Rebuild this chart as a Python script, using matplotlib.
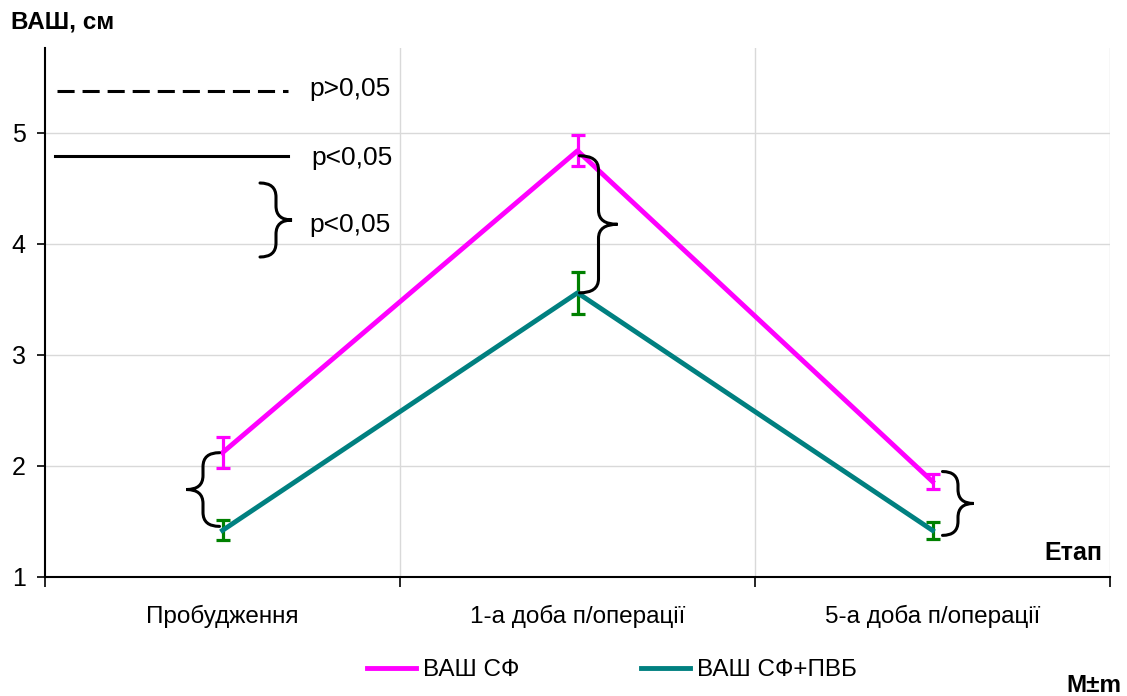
import matplotlib
matplotlib.use("Agg")
import matplotlib.pyplot as plt
from matplotlib.path import Path
from matplotlib.patches import PathPatch
from matplotlib.lines import Line2D

plt.rcParams['font.family'] = ['Liberation Sans', 'DejaVu Sans']

# ---- data ----
categories = ["Пробудження", "1-а доба п/операції", "5-а доба п/операції"]
vas_sf = [2.12, 4.84, 1.86]
vas_sf_err = [0.14, 0.14, 0.07]
vas_pvb = [1.42, 3.56, 1.42]
vas_pvb_err = [0.09, 0.19, 0.08]
series_labels = ["ВАШ СФ", "ВАШ СФ+ПВБ"]
yticks = [1, 2, 3, 4, 5]

W, H = 1127, 696
fig = plt.figure(figsize=(W / 100, H / 100), dpi=100)
L, R, B, T = 45, 1110, 577, 48
ax = fig.add_axes([L / W, 1 - B / H, (R - L) / W, (B - T) / H])

ymin, ymax = 1, 1 + (B - T) / 111.0
ax.set_xlim(-0.5, len(categories) - 0.5)
ax.set_ylim(ymin, ymax)

px_x = (len(categories)) / (R - L)   # data units per pixel in x
px_y = (ymax - ymin) / (B - T)       # data units per pixel in y

x = list(range(len(categories)))
magenta = "#FF00FF"
teal = "#008080"
green = "#008000"

ax.plot(x, vas_sf, color=magenta, lw=3.5, zorder=3)
ax.errorbar(x, vas_sf, yerr=vas_sf_err, fmt='none', ecolor=magenta,
            elinewidth=2.3, capsize=5, capthick=2.3, zorder=4)
ax.errorbar(x, vas_pvb, yerr=vas_pvb_err, fmt='none', ecolor=green,
            elinewidth=2.3, capsize=5, capthick=2.3, zorder=3)
ax.plot(x, vas_pvb, color=teal, lw=3.5, zorder=4)

# grid
for yv in yticks[1:]:
    ax.axhline(yv, color="#d9d9d9", lw=1, zorder=0)
for xb in [0.5, 1.5, 2.5]:
    ax.axvline(xb, color="#d9d9d9", lw=1, zorder=0)

ax.set_yticks(yticks)
ax.set_yticklabels([str(v) for v in yticks], fontsize=18)
ax.set_xticks([-0.5, 0.5, 1.5, 2.5])
ax.set_xticklabels([])
ax.tick_params(axis='x', direction='out', length=7, width=1.2, color='black')
ax.tick_params(axis='y', direction='out', length=6, width=1.2, color='black', pad=8)
for i, c in enumerate(categories):
    ax.text(i, ymin - 46 * px_y, c, ha='center', va='baseline', fontsize=17.5)

for s in ['top', 'right']:
    ax.spines[s].set_visible(False)
ax.spines['left'].set_linewidth(1.5)
ax.spines['bottom'].set_linewidth(1.5)


def brace(ax, x0, ytop, ybot, w, lw=2.2):
    """Curly brace; w>0 -> '}', w<0 -> '{'. w in data x units."""
    ymid = (ytop + ybot) / 2
    r = 14 * px_y
    xm = x0 + w / 2
    verts = [(x0, ytop), (xm, ytop), (xm, ytop - r),
             (xm, ymid + r),
             (xm, ymid), (x0 + w, ymid),
             (xm, ymid), (xm, ymid - r),
             (xm, ybot + r),
             (xm, ybot), (x0, ybot)]
    codes = [Path.MOVETO, Path.CURVE3, Path.CURVE3,
             Path.LINETO,
             Path.CURVE3, Path.CURVE3,
             Path.CURVE3, Path.CURVE3,
             Path.LINETO,
             Path.CURVE3, Path.CURVE3]
    ax.add_patch(PathPatch(Path(verts, codes), fill=False, lw=lw,
                           edgecolor='black', capstyle='round', zorder=5,
                           clip_on=False))


# braces between series
brace(ax, 0 - 3 * px_x, vas_sf[0], vas_pvb[0] + 4 * px_y, -33 * px_x)
brace(ax, 1 + 2 * px_x, vas_sf[1] - 5 * px_y, vas_pvb[1], 38 * px_x)
brace(ax, 2 + 10 * px_x, vas_sf[2] + 10 * px_y, vas_pvb[2] - 5 * px_y, 31 * px_x)


# key in upper-left (pixel positions)
def dx(p):
    return -0.5 + (p - L) * px_x


def dy(p):
    return ymin + (B - p) * px_y


ax.plot([dx(57), dx(288)], [dy(91), dy(91)], color='black', lw=2.2,
        dashes=(5.6, 2.6), zorder=5)
ax.plot([dx(55), dx(288)], [dy(156), dy(156)], color='black', lw=2.2, zorder=5)
brace(ax, dx(260), dy(183), dy(257), 32 * px_x)
ax.text(dx(309), dy(96), "p>0,05", fontsize=19, va='baseline', ha='left')
ax.text(dx(311), dy(165), "p<0,05", fontsize=19, va='baseline', ha='left')
ax.text(dx(309), dy(232), "p<0,05", fontsize=19, va='baseline', ha='left')

# titles
fig.text(11 / W, 1 - 22 / H, "ВАШ, см", fontsize=17.5, fontweight='bold',
         va='center', ha='left')
fig.text(1102 / W, 1 - 553 / H, "Етап", fontsize=18, fontweight='bold',
         va='center', ha='right')
fig.text(1121 / W, 1 - 692 / H, "M±m", fontsize=17.5, fontweight='bold',
         va='baseline', ha='right')

# legend
handles = [Line2D([0], [0], color=magenta, lw=3.5),
           Line2D([0], [0], color=teal, lw=3.5)]
leg = fig.legend(handles, series_labels, loc='center', ncol=2,
                 bbox_to_anchor=(0.543, 1 - 670 / H), frameon=False,
                 fontsize=17.5, handlelength=2.0, columnspacing=5.0,
                 handletextpad=0.3)

fig.savefig("out.png", dpi=100)
